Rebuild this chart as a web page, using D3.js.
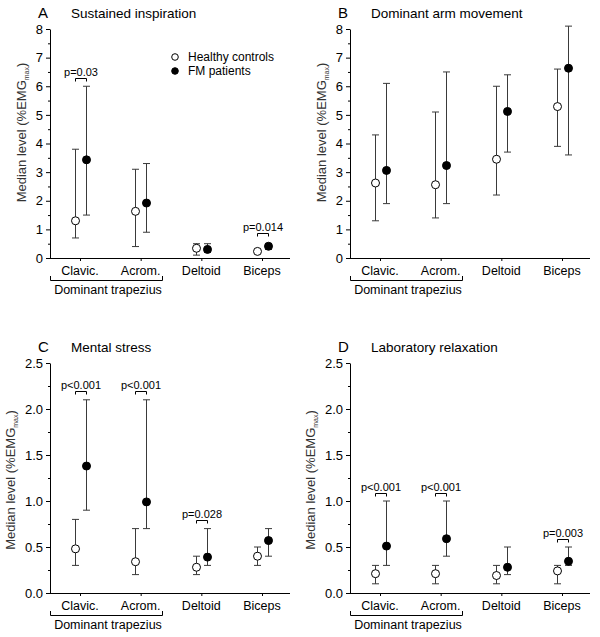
<!DOCTYPE html>
<html><head><meta charset="utf-8">
<script src="https://cdn.jsdelivr.net/npm/d3@7"></script>
<style>body{margin:0;background:#fff}svg{display:block;font-family:"Liberation Sans",Arial,sans-serif;font-weight:400}</style>
</head><body><svg id="c" width="600" height="637"></svg>
<script>
const categories = ["Clavic.", "Acrom.", "Deltoid", "Biceps"];
const panelLetters = ["A", "B", "C", "D"];
const panelTitles = ["Sustained inspiration", "Dominant arm movement", "Mental stress", "Laboratory relaxation"];
const yMaxes = [8, 8, 2.5, 2.5];
const tickLabelsAB = ["0","1","2","3","4","5","6","7","8"];
const tickLabelsCD = ["0.0","0.5","1.0","1.5","2.0","2.5"];
const seriesNames = ["Healthy controls", "FM patients"];

// Panel A
const ctrlMedA = [1.30, 1.63, 0.34, 0.23], ctrlLowA = [0.7, 0.4, 0.1, 0.2], ctrlHighA = [3.8, 3.1, 0.5, 0.3];
const fmMedA = [3.43, 1.92, 0.30, 0.41], fmLowA = [1.5, 0.9, 0.2, 0.3], fmHighA = [6.0, 3.3, 0.5, 0.5];
// Panel B
const ctrlMedB = [2.62, 2.56, 3.45, 5.29], ctrlLowB = [1.3, 1.4, 2.2, 3.9], ctrlHighB = [4.3, 5.1, 6.0, 6.6];
const fmMedB = [3.06, 3.23, 5.12, 6.63], fmLowB = [1.9, 1.9, 3.7, 3.6], fmHighB = [6.1, 6.5, 6.4, 8.1];
// Panel C
const ctrlMedC = [0.48, 0.34, 0.28, 0.40], ctrlLowC = [0.3, 0.2, 0.2, 0.3], ctrlHighC = [0.8, 0.7, 0.4, 0.5];
const fmMedC = [1.38, 0.99, 0.39, 0.57], fmLowC = [0.9, 0.7, 0.3, 0.4], fmHighC = [2.1, 2.1, 0.7, 0.7];
// Panel D
const ctrlMedD = [0.21, 0.21, 0.19, 0.24], ctrlLowD = [0.1, 0.1, 0.1, 0.1], ctrlHighD = [0.3, 0.3, 0.3, 0.3];
const fmMedD = [0.51, 0.59, 0.28, 0.345], fmLowD = [0.3, 0.4, 0.2, 0.3], fmHighD = [1.0, 1.0, 0.5, 0.5];

// significance brackets: category index, level, label
const pA = [[0, 6.28, "p=0.03"], [3, 0.87, "p=0.014"]];
const pB = [];
const pC = [[0, 2.2, "p<0.001"], [1, 2.2, "p<0.001"], [2, 0.79, "p=0.028"]];
const pD = [[0, 1.09, "p<0.001"], [1, 1.09, "p<0.001"], [3, 0.59, "p=0.003"]];

const panels = [
  {ctrl:[ctrlMedA,ctrlLowA,ctrlHighA], fm:[fmMedA,fmLowA,fmHighA], p:pA, ticks:tickLabelsAB, step:1, left:50, top:29, bottom:258, labOff:-11, labX:26},
  {ctrl:[ctrlMedB,ctrlLowB,ctrlHighB], fm:[fmMedB,fmLowB,fmHighB], p:pB, ticks:tickLabelsAB, step:1, left:350, top:29, bottom:258, labOff:-11, labX:326},
  {ctrl:[ctrlMedC,ctrlLowC,ctrlHighC], fm:[fmMedC,fmLowC,fmHighC], p:pC, ticks:tickLabelsCD, step:0.5, left:50, top:363, bottom:593, labOff:2, labX:15},
  {ctrl:[ctrlMedD,ctrlLowD,ctrlHighD], fm:[fmMedD,fmLowD,fmHighD], p:pD, ticks:tickLabelsCD, step:0.5, left:350, top:363, bottom:593, labOff:2, labX:315}
];

const svg = d3.select("#c");
const W = 240, dx = 5.5, R = 4, cap = 3.5, barColor = "#3a3a3a";
const FONT = '"Liberation Sans",Arial,sans-serif';

panels.forEach((P, i) => {
  const g = svg.append("g");
  const x = d3.scalePoint().domain(categories).range([P.left + 30, P.left + 212]);
  const y = d3.scaleLinear().domain([0, yMaxes[i]]).range([P.bottom, P.top]);
  const tickVals = P.ticks.map(t => +t);

  // y axis
  g.append("g").attr("transform", `translate(${P.left},0)`)
    .call(d3.axisLeft(y).tickValues(tickVals).tickFormat((d, k) => P.ticks[k]).tickSize(4).tickPadding(3).tickSizeOuter(0));
  const minor = d3.range(P.step / 2, yMaxes[i], P.step);
  g.append("g").attr("transform", `translate(${P.left},0)`)
    .call(d3.axisLeft(y).tickValues(minor).tickFormat("").tickSize(2).tickSizeOuter(0))
    .select(".domain").remove();
  // x axis
  const xa = g.append("g").attr("transform", `translate(0,${P.bottom})`)
    .call(d3.axisBottom(x).tickSize(3).tickFormat("").tickSizeOuter(0));
  xa.select(".domain").attr("d", `M${P.left},0.5H${P.left + W}`);
  g.selectAll(".tick text").attr("font-size", 13).attr("fill", "#000").attr("font-family", FONT);
  g.selectAll(".domain, .tick line").attr("stroke", "#000");

  // category labels
  g.selectAll(".cat").data(categories).join("text").attr("class", "cat")
    .attr("x", d => x(d)).attr("y", P.bottom + 17).attr("text-anchor", "middle")
    .attr("font-size", 12.5).text(d => d);
  // trapezius bracket
  const bx0 = P.left, bx1 = P.left + 112, by = P.bottom + 22;
  g.append("path").attr("d", `M${bx0 + 0.5},${by - 4}V${by + 0.5}H${bx1 + 0.5}V${by - 4}`)
    .attr("fill", "none").attr("stroke", "#000").attr("stroke-width", 1);
  g.append("text").attr("x", (bx0 + bx1) / 2 + 2).attr("y", P.bottom + 36).attr("text-anchor", "middle")
    .attr("font-size", 12.5).text("Dominant trapezius");

  // titles
  g.append("text").attr("x", P.left - 12).attr("y", P.top - 11).attr("font-size", 15).text(panelLetters[i]);
  g.append("text").attr("x", P.left + 21).attr("y", P.top - 11).attr("font-size", 13.5).text(panelTitles[i]);

  // y label
  const cy = (P.top + P.bottom) / 2 + P.labOff;
  const lab = g.append("text").attr("transform", `translate(${P.labX},${cy}) rotate(-90)`)
    .attr("text-anchor", "middle").attr("font-size", 13).attr("font-weight", 400).attr("fill", "#333");
  lab.append("tspan").text("Median level (%EMG");
  lab.append("tspan").attr("font-size", 7).attr("dy", 3).text("max");
  lab.append("tspan").attr("dy", -3).text(")");

  // series
  [[P.ctrl, -dx, "#fff"], [P.fm, dx, "#000"]].forEach(([S, off, fill]) => {
    const [med, lo, hi] = S;
    categories.forEach((c, k) => {
      const cx = Math.round(x(c) + off) + 0.5;
      g.append("path").attr("d",
        `M${cx},${y(lo[k])}V${y(hi[k])}M${cx - cap},${y(hi[k])}H${cx + cap}M${cx - cap},${y(lo[k])}H${cx + cap}`)
        .attr("stroke", barColor).attr("stroke-width", 1).attr("fill", "none");
    });
    g.selectAll(null).data(categories).join("circle")
      .attr("cx", c => Math.round(x(c) + off) + 0.5).attr("cy", (c, k) => y(med[k])).attr("r", R)
      .attr("fill", fill).attr("stroke", "#000").attr("stroke-width", 1);
  });

  // p brackets
  P.p.forEach(([k, v, t]) => {
    const x0 = Math.round(x(categories[k]) - dx) + 0.5, x1 = Math.round(x(categories[k]) + dx) + 0.5, yy = Math.round(y(v)) + 0.5;
    g.append("path").attr("d", `M${x0},${yy + 3}V${yy}H${x1}V${yy + 3}`)
      .attr("fill", "none").attr("stroke", "#000").attr("stroke-width", 1);
    g.append("text").attr("x", (x0 + x1) / 2).attr("y", yy - 3).attr("text-anchor", "middle")
      .attr("font-size", 11).text(t);
  });

  // legend (panel A only)
  if (i === 0) {
    seriesNames.forEach((n, k) => {
      g.append("circle").attr("cx", 175).attr("cy", 57 + k * 14).attr("r", 3.3)
        .attr("fill", k ? "#000" : "#fff").attr("stroke", "#000");
      g.append("text").attr("x", 188).attr("y", 61 + k * 14).attr("font-size", 12).text(n);
    });
  }
});
</script></body></html>
